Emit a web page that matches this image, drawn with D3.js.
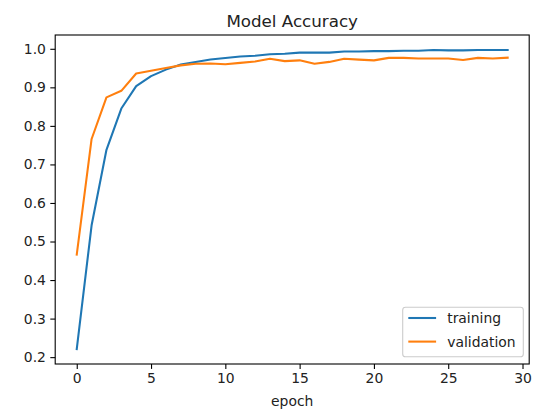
<!DOCTYPE html>
<html><head><meta charset="utf-8">
<script src="https://cdn.jsdelivr.net/npm/d3@7"></script>
<style>
html,body{margin:0;padding:0;background:#fff;}
svg{display:block;font-family:"DejaVu Sans",sans-serif;}
</style></head>
<body>
<script>
const epochs = d3.range(0, 30);
const training = [0.221, 0.542, 0.738, 0.845, 0.903, 0.929, 0.946, 0.959, 0.966, 0.972,
  0.976, 0.980, 0.982, 0.986, 0.987, 0.990, 0.990, 0.990, 0.993, 0.993,
  0.994, 0.994, 0.995, 0.995, 0.997, 0.996, 0.996, 0.997, 0.997, 0.997];
const validation = [0.466, 0.766, 0.874, 0.891, 0.936, 0.943, 0.950, 0.957, 0.961, 0.962,
  0.960, 0.9635, 0.967, 0.974, 0.968, 0.970, 0.961, 0.966, 0.974, 0.972,
  0.970, 0.9765, 0.9765, 0.975, 0.975, 0.975, 0.971, 0.9765, 0.975, 0.977];
const seriesNames = ["training", "validation"];
const seriesColors = ["#1f77b4", "#ff7f0e"];
const xTicks = [0, 5, 10, 15, 20, 25, 30];
const yTicks = [0.2, 0.3, 0.4, 0.5, 0.6, 0.7, 0.8, 0.9, 1.0];
const titleText = "Model Accuracy";
const xLabel = "epoch";

const W = 542, H = 412;
const L = 55.2, T = 35, R = 529.2, B = 364;

const svg = d3.select("body").append("svg").attr("width", W).attr("height", H);

const xMin = d3.min(epochs), xMax = d3.max(epochs);
const xm = (xMax - xMin) * 0.05;
const all = training.concat(validation);
const yMin = d3.min(all), yMax = d3.max(all);
const ym = (yMax - yMin) * 0.05;

const x = d3.scaleLinear().domain([xMin - xm, xMax + xm]).range([L, R]);
const y = d3.scaleLinear().domain([yMin - ym, yMax + ym]).range([B, T]);

const data = [training, validation];
const line = d3.line().x((d, i) => x(epochs[i])).y(d => y(d));

const g = svg.append("g");
g.selectAll("path.series").data(data).enter().append("path")
  .attr("class", "series")
  .attr("d", d => line(d))
  .attr("fill", "none")
  .attr("stroke", (d, i) => seriesColors[i])
  .attr("stroke-width", 2.08)
  .attr("stroke-linejoin", "round")
  .attr("stroke-linecap", "square");

// axes
const xAxis = d3.axisBottom(x).tickValues(xTicks).tickFormat(d3.format("d")).tickSize(4.9).tickPadding(4.4);
const yAxis = d3.axisLeft(y).tickValues(yTicks).tickFormat(d3.format(".1f")).tickSize(4.9).tickPadding(4.4);

const gx = svg.append("g").attr("transform", `translate(0,${B})`).call(xAxis);
const gy = svg.append("g").attr("transform", `translate(${L},0)`).call(yAxis);
[gx, gy].forEach(a => {
  a.select(".domain").remove();
  a.selectAll(".tick line").attr("stroke", "#000").attr("stroke-width", 1.1);
  a.selectAll(".tick text").attr("fill", "#222").attr("font-size", "13.9px")
    .attr("font-family", "DejaVu Sans, sans-serif");
});

// frame
svg.append("rect").attr("x", L).attr("y", T).attr("width", R - L).attr("height", B - T)
  .attr("fill", "none").attr("stroke", "#000").attr("stroke-width", 1.1);

// title
svg.append("text").attr("x", (L + R) / 2).attr("y", 26.7).attr("text-anchor", "middle")
  .attr("font-size", "16.7px").attr("fill", "#222").text(titleText);

// x label
svg.append("text").attr("x", (L + R) / 2).attr("y", 406).attr("text-anchor", "middle")
  .attr("font-size", "13.9px").attr("fill", "#222").text(xLabel);

// legend
const lg = svg.append("g");
lg.append("rect").attr("x", 402.7).attr("y", 307.3).attr("width", 120.6).attr("height", 49.4)
  .attr("rx", 2.8).attr("fill", "#fff").attr("fill-opacity", 0.8)
  .attr("stroke", "#cccccc").attr("stroke-width", 1.1);
seriesNames.forEach((name, i) => {
  const cy = 318 + i * 23.6;
  lg.append("line").attr("x1", 408.3).attr("x2", 436.1).attr("y1", cy).attr("y2", cy)
    .attr("stroke", seriesColors[i]).attr("stroke-width", 2.08);
  lg.append("text").attr("x", 447.2).attr("y", cy + 4.9).attr("font-size", "13.9px")
    .attr("fill", "#222").text(name);
});
</script>
</body></html>
